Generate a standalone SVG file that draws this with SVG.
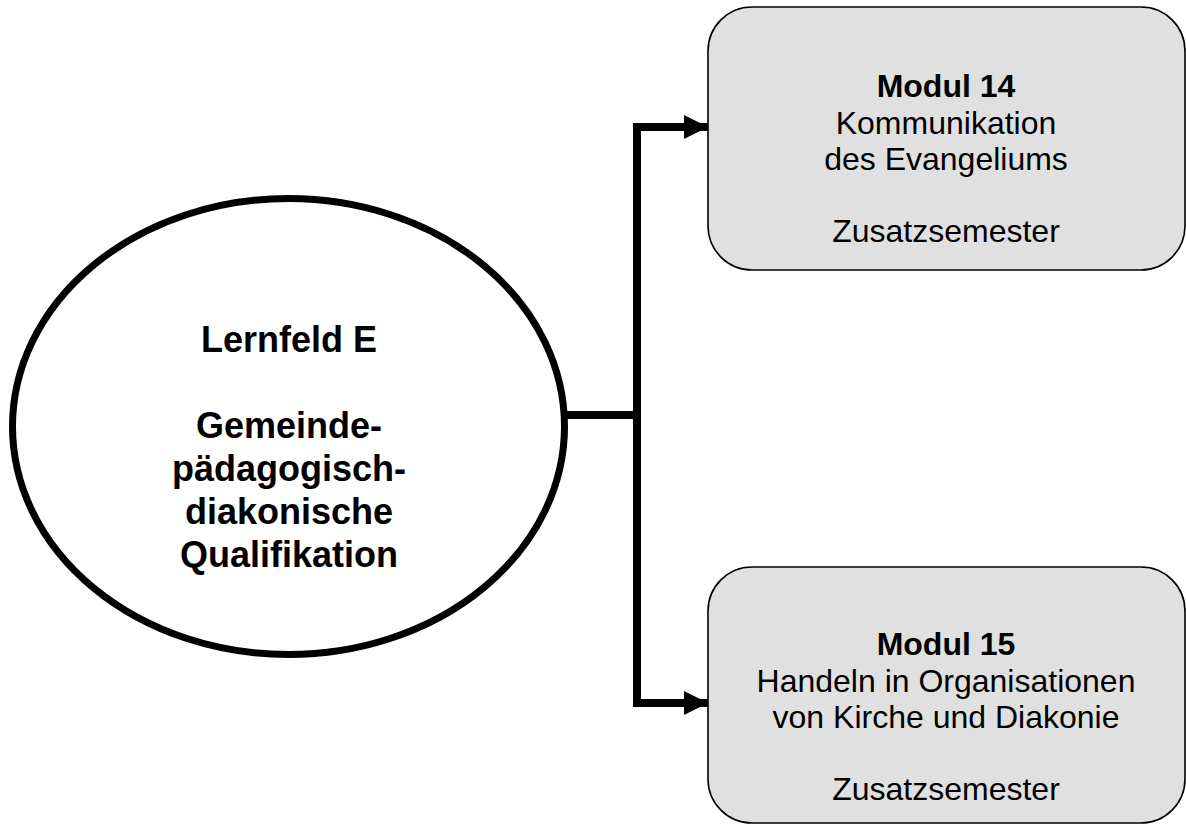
<svg xmlns="http://www.w3.org/2000/svg" width="1186" height="825" viewBox="0 0 1186 825">
  <style>
    .box { fill: #e0e0e0; stroke: #000; stroke-width: 1.6; }
    .ell { fill: #fff; stroke: #000; stroke-width: 7; }
    .conn { fill: none; stroke: #000; stroke-width: 8; stroke-linejoin: miter; }
    .t { font-family: "Liberation Sans", Arial, sans-serif; font-size: 32px; text-anchor: middle; fill: #000; }
    .b { font-weight: bold; }
    .et { font-family: "Liberation Sans", Arial, sans-serif; font-size: 36px; font-weight: bold; text-anchor: middle; fill: #000; }
  </style>
  <defs>
    <marker id="arr" markerUnits="userSpaceOnUse" markerWidth="24" markerHeight="24" refX="24" refY="12" orient="auto">
      <path d="M0,0 L24,12 L0,24 Z" fill="#000"/>
    </marker>
  </defs>
  <rect width="1186" height="825" fill="#fff"/>
  <g id="connectors">
    <path class="conn" d="M562,415 H637"/>
    <path class="conn" d="M637,123 V707"/>
    <path class="conn" d="M633,127 H708" marker-end="url(#arr)"/>
    <path class="conn" d="M633,703 H708" marker-end="url(#arr)"/>
  </g>
  <g id="lernfeld">
    <ellipse class="ell" cx="288.5" cy="426.5" rx="276" ry="228"/>
    <text class="et" x="289" y="352">Lernfeld E</text>
    <text class="et" x="289" y="438">Gemeinde-</text>
    <text class="et" x="289" y="481">pädagogisch-</text>
    <text class="et" x="289" y="524">diakonische</text>
    <text class="et" x="289" y="567">Qualifikation</text>
  </g>
  <g id="modul14">
    <rect class="box" x="708" y="7" width="477" height="263" rx="44" ry="44"/>
    <text class="t b" x="946" y="97">Modul 14</text>
    <text class="t" x="946" y="134">Kommunikation</text>
    <text class="t" x="946" y="170">des Evangeliums</text>
    <text class="t" x="946" y="242">Zusatzsemester</text>
  </g>
  <g id="modul15">
    <rect class="box" x="708" y="567" width="477" height="256" rx="44" ry="44"/>
    <text class="t b" x="946" y="655">Modul 15</text>
    <text class="t" x="946" y="692">Handeln in Organisationen</text>
    <text class="t" x="946" y="728">von Kirche und Diakonie</text>
    <text class="t" x="946" y="800">Zusatzsemester</text>
  </g>
</svg>
